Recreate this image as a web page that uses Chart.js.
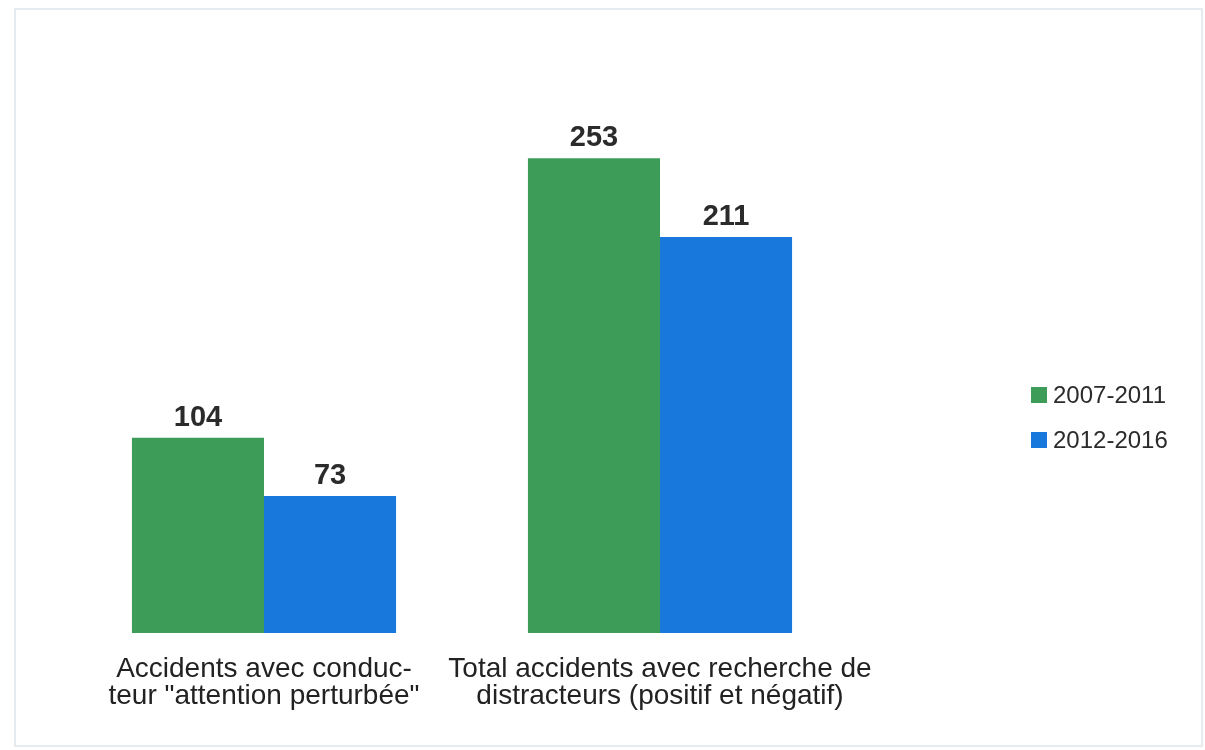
<!DOCTYPE html>
<html>
<head>
<meta charset="utf-8">
<script src="https://cdn.jsdelivr.net/npm/chart.js@4.4.1/dist/chart.umd.min.js"></script>
<style>
  body { margin: 0; background: #fff; }
  .cadre { position: absolute; left: 14px; top: 8px; width: 1185px; height: 735px; border: 2px solid #e6ebf0; }
  #cntAccidents { position: absolute; left: 0; top: 0; }
</style>
</head>
<body>
<div class="cadre"></div>
<canvas id="cntAccidents" width="1205" height="750"></canvas>
<script>
  // Accidents impliquant des distracteurs, deux périodes
  const categories = [
    ['Accidents avec conduc-', 'teur "attention perturbée"'],
    ['Total accidents avec recherche de', 'distracteurs (positif et négatif)']
  ];
  const periodes = ['2007-2011', '2012-2016'];
  const valeurs2007 = [104, 253];
  const valeurs2012 = [73, 211];
  const couleurs = ['#3c9c58', '#1878dc'];

  const police = '"Liberation Sans", Arial, sans-serif';

  // valeurs en gras au-dessus des barres
  const etiquettesValeurs = {
    id: 'etiquettesValeurs',
    afterDatasetsDraw(chart) {
      const ctx = chart.ctx;
      ctx.save();
      ctx.font = 'bold 29px ' + police;
      ctx.fillStyle = '#2b2b2b';
      ctx.textAlign = 'center';
      ctx.textBaseline = 'alphabetic';
      chart.data.datasets.forEach(function(ds, i) {
        chart.getDatasetMeta(i).data.forEach(function(bar, j) {
          ctx.fillText(String(ds.data[j]), bar.x, bar.y - 12);
        });
      });
      ctx.restore();
    }
  };

  // légende à droite, sous le milieu du graphique
  const legendeDroite = {
    id: 'legendeDroite',
    afterDraw(chart) {
      const ctx = chart.ctx;
      const x = chart.chartArea.right + 173;
      const y0 = chart.chartArea.top + 317;
      ctx.save();
      ctx.font = '24px ' + police;
      ctx.textBaseline = 'alphabetic';
      ctx.textAlign = 'left';
      chart.data.datasets.forEach(function(ds, i) {
        const y = y0 + i * 45;
        ctx.fillStyle = ds.backgroundColor;
        ctx.fillRect(x, y, 16, 16);
        ctx.fillStyle = '#2b2b2b';
        ctx.fillText(ds.label, x + 22, y + 16);
      });
      ctx.restore();
    }
  };

  const config = {
    type: 'bar',
    data: {
      labels: categories,
      datasets: [
        { label: periodes[0], data: valeurs2007, backgroundColor: couleurs[0] },
        { label: periodes[1], data: valeurs2012, backgroundColor: couleurs[1] }
      ]
    },
    options: {
      responsive: false,
      animation: false,
      layout: { padding: { left: 66, right: 347, top: 70, bottom: 17 } },
      datasets: { bar: { categoryPercentage: 0.667, barPercentage: 1 } },
      plugins: {
        legend: { display: false },
        tooltip: { enabled: false }
      },
      scales: {
        x: {
          grid: { display: false, drawTicks: false },
          border: { display: false },
          ticks: {
            padding: 23,
            maxRotation: 0,
            minRotation: 0,
            autoSkip: false,
            color: '#222',
            font: { family: police, size: 28, lineHeight: '27px' }
          }
        },
        y: {
          display: false,
          min: 0,
          max: 300
        }
      }
    },
    plugins: [etiquettesValeurs, legendeDroite]
  };

  const ctx = document.getElementById('cntAccidents').getContext('2d');
  window.graphAccidents = new Chart(ctx, config);
</script>
</body>
</html>
